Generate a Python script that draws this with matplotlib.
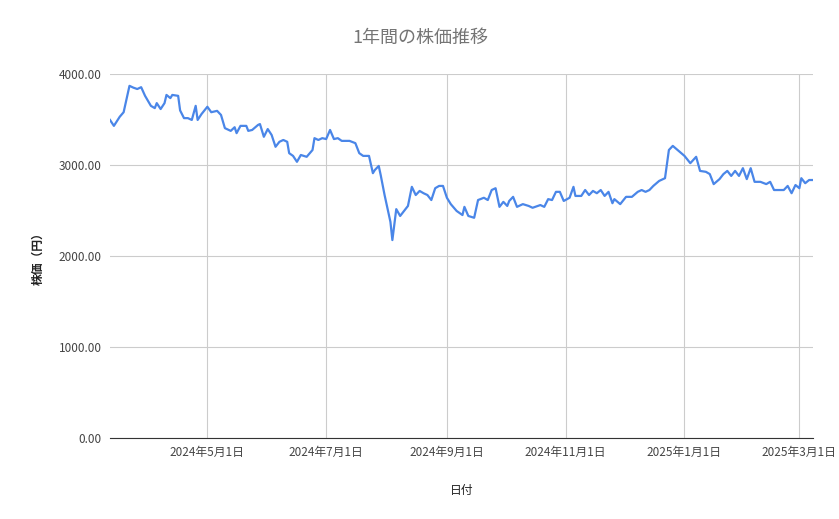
import datetime as dt
import matplotlib
matplotlib.use("Agg")
import matplotlib.pyplot as plt
import matplotlib.dates as mdates

plt.rcParams['font.family'] = ['Noto Sans CJK JP', 'DejaVu Sans']

start = dt.date(2024, 3, 12)
day_offsets = [0, 2, 5, 7, 10, 12, 14, 16, 18, 21, 23, 24, 26, 28, 29, 31, 32, 35, 36, 38, 40, 42, 44, 45, 47, 50,
               52, 55, 57, 59, 62, 64, 65, 67, 70, 71, 73, 76, 77, 79, 81, 83, 85, 87, 89, 91, 92, 94, 96, 98, 101,
               104, 105, 107, 109, 111, 113, 115, 117, 119, 123, 126, 128, 130, 133, 135, 136, 138, 139, 141, 144,
               145, 147, 149, 151, 153, 155, 157, 159, 161, 163, 165, 167, 169, 171, 173, 175, 178, 181, 182, 184,
               187, 189, 192, 194, 196, 198, 200, 202, 204, 205, 207, 209, 212, 215, 217, 221, 223, 225, 227, 229,
               231, 233, 236, 238, 239, 242, 244, 246, 248, 250, 252, 254, 256, 258, 259, 262, 265, 268, 271, 273,
               275, 277, 279, 282, 285, 287, 289, 292, 295, 298, 301, 303, 306, 308, 310, 313, 315, 317, 319, 321,
               323, 325, 327, 329, 331, 334, 337, 339, 341, 346, 348, 350, 352, 354, 355, 357, 359, 361]
prices = [3495, 3430, 3530, 3580, 3870, 3850, 3835, 3855, 3760, 3650, 3625, 3680, 3615, 3680, 3770, 3735, 3770,
          3760, 3600, 3515, 3515, 3495, 3650, 3495, 3560, 3640, 3580, 3595, 3550, 3405, 3375, 3415, 3350, 3430,
          3430, 3375, 3385, 3440, 3450, 3310, 3395, 3330, 3200, 3255, 3275, 3255, 3130, 3100, 3035, 3110, 3090,
          3165, 3295, 3275, 3295, 3285, 3385, 3285, 3295, 3265, 3265, 3240, 3130, 3100, 3100, 2910, 2945, 2990,
          2890, 2670, 2375, 2175, 2515, 2440, 2495, 2550, 2760, 2670, 2715, 2690, 2670, 2615, 2745, 2770, 2770,
          2640, 2570, 2495, 2450, 2540, 2440, 2420, 2615, 2640, 2615, 2725, 2745, 2540, 2595, 2550, 2605, 2650,
          2540, 2570, 2550, 2530, 2560, 2540, 2625, 2615, 2705, 2705, 2605, 2640, 2760, 2660, 2660, 2725, 2670,
          2715, 2690, 2725, 2660, 2705, 2580, 2625, 2570, 2650, 2650, 2705, 2725, 2705, 2725, 2770, 2825, 2855,
          3165, 3210, 3155, 3100, 3020, 3090, 2935, 2925, 2900, 2790, 2845, 2900, 2935, 2880, 2935, 2880, 2965,
          2845, 2965, 2815, 2815, 2790, 2815, 2725, 2725, 2770, 2690, 2780, 2745, 2855, 2800, 2835, 2835]
tick_dates = ["2024-05-01", "2024-07-01", "2024-09-01", "2024-11-01", "2025-01-01", "2025-03-01"]
tick_labels = ["2024年5月1日", "2024年7月1日", "2024年9月1日", "2024年11月1日", "2025年1月1日", "2025年3月1日"]

dates = [start + dt.timedelta(days=d) for d in day_offsets]

fig = plt.figure(figsize=(8.39, 5.19), dpi=100)
ax = fig.add_axes([110 / 839, 1 - 438 / 519, 703 / 839, 364 / 519])
ax.plot(dates, prices, color='#4a86e8', linewidth=1.6)

ax.set_xlim(dates[0], dates[-1])
ax.set_ylim(0, 4000)
ax.set_yticks([0, 1000, 2000, 3000, 4000])
ax.set_yticklabels([f"{v:.2f}" for v in [0, 1000, 2000, 3000, 4000]])
ax.set_xticks([mdates.date2num(dt.date.fromisoformat(d)) for d in tick_dates])
ax.set_xticklabels(tick_labels)
ax.tick_params(length=0, labelsize=8.5, colors='#444444', pad=6)

ax.grid(True, color='#cccccc', linewidth=0.8)
ax.set_axisbelow(True)
for s in ['top', 'right', 'left']:
    ax.spines[s].set_visible(False)
ax.spines['bottom'].set_color('#333333')

fig.text(420 / 839, 1 - 38 / 519, "1年間の株価推移", ha='center', va='center', fontsize=13, color='#757575')
ax.set_xlabel("日付", fontsize=8.5, color='#222222', labelpad=18)
ax.set_ylabel("株価（円）", fontsize=8.5, color='#222222', fontweight='bold', labelpad=10)

fig.savefig("out.png", dpi=100)
